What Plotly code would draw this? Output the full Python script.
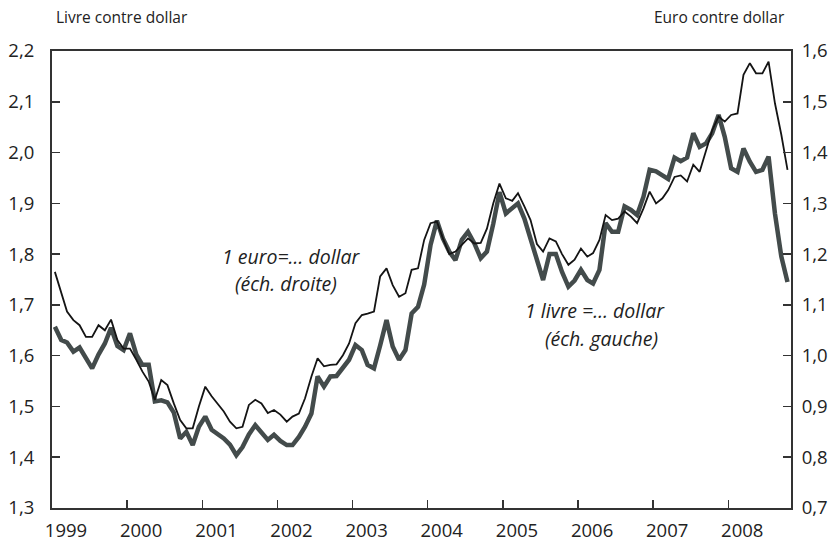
import plotly.graph_objects as go

# Monthly averages, Jan 1999 - Oct 2008
years = list(range(1999, 2009))
months = [f"{y}-{m:02d}-15" for y in years for m in range(1, 13)][:118]

livre_dollar = [
    1.657, 1.631, 1.626, 1.608, 1.616, 1.597, 1.575, 1.602, 1.624, 1.655, 1.619, 1.611,  # 1999
    1.644, 1.602, 1.582, 1.582, 1.510, 1.512, 1.508, 1.488, 1.437, 1.450, 1.424, 1.460,  # 2000
    1.480, 1.454, 1.447, 1.437, 1.425, 1.404, 1.420, 1.445, 1.463, 1.450, 1.434, 1.444,  # 2001
    1.432, 1.424, 1.424, 1.440, 1.460, 1.486, 1.559, 1.539, 1.559, 1.560, 1.575, 1.592,  # 2002
    1.621, 1.611, 1.582, 1.575, 1.620, 1.670, 1.618, 1.592, 1.611, 1.683, 1.696, 1.740,  # 2003
    1.818, 1.866, 1.831, 1.805, 1.788, 1.828, 1.844, 1.821, 1.792, 1.805, 1.860, 1.922,  # 2004
    1.880, 1.890, 1.900, 1.870, 1.830, 1.785, 1.749, 1.800, 1.800, 1.765, 1.736, 1.748,  # 2005
    1.769, 1.749, 1.742, 1.769, 1.861, 1.844, 1.844, 1.894, 1.887, 1.877, 1.913, 1.966,  # 2006
    1.963, 1.955, 1.948, 1.990, 1.983, 1.990, 2.038, 2.011, 2.018, 2.038, 2.074, 2.031,  # 2007
    1.969, 1.962, 2.008, 1.982, 1.962, 1.966, 1.992, 1.880, 1.795, 1.745,                # 2008
]

euro_dollar = [
    1.165, 1.123, 1.087, 1.070, 1.060, 1.037, 1.037, 1.060, 1.050, 1.071, 1.031, 1.014,  # 1999
    1.014, 0.992, 0.969, 0.949, 0.913, 0.952, 0.942, 0.906, 0.873, 0.857, 0.857, 0.900,  # 2000
    0.939, 0.920, 0.905, 0.890, 0.870, 0.857, 0.860, 0.903, 0.913, 0.906, 0.887, 0.893,  # 2001
    0.884, 0.870, 0.880, 0.886, 0.916, 0.959, 0.995, 0.979, 0.982, 0.983, 1.001, 1.024,  # 2002
    1.064, 1.080, 1.083, 1.087, 1.156, 1.172, 1.139, 1.116, 1.123, 1.169, 1.172, 1.228,  # 2003
    1.261, 1.264, 1.231, 1.200, 1.205, 1.218, 1.231, 1.221, 1.222, 1.250, 1.300, 1.339,  # 2004
    1.310, 1.305, 1.320, 1.294, 1.267, 1.220, 1.205, 1.231, 1.225, 1.200, 1.179, 1.189,  # 2005
    1.211, 1.195, 1.202, 1.228, 1.277, 1.267, 1.270, 1.284, 1.274, 1.261, 1.290, 1.323,  # 2006
    1.300, 1.310, 1.326, 1.352, 1.355, 1.343, 1.376, 1.362, 1.402, 1.444, 1.471, 1.461,  # 2007
    1.474, 1.477, 1.553, 1.576, 1.556, 1.556, 1.579, 1.497, 1.435, 1.366,                # 2008
]

year_ticks = [f"{y}-01-01" for y in years]
year_labels = [str(y) for y in years]
left_ticks = [1.3, 1.4, 1.5, 1.6, 1.7, 1.8, 1.9, 2.0, 2.1, 2.2]
right_ticks = [0.7, 0.8, 0.9, 1.0, 1.1, 1.2, 1.3, 1.4, 1.5, 1.6]

FONT = "'Open Sans', Lato, sans-serif"
AXC = "#333333"
TXT = "#222222"
TICKSIZE = 18.5
NOTESIZE = 19.5

fig = go.Figure()
fig.add_trace(go.Scatter(
    x=months, y=livre_dollar, mode="lines", name="1 livre = ... dollar",
    line=dict(color="#434b4b", width=4.5), yaxis="y", hoverinfo="skip"))
fig.add_trace(go.Scatter(
    x=months, y=euro_dollar, mode="lines", name="1 euro = ... dollar",
    line=dict(color="#141414", width=1.8), yaxis="y2", hoverinfo="skip"))

fig.update_layout(
    width=838, height=543,
    margin=dict(l=52, r=47, t=51, b=35, autoexpand=False),
    paper_bgcolor="white", plot_bgcolor="white",
    showlegend=False,
    separators=", ",
    font=dict(family=FONT, size=TICKSIZE, color=TXT),
    xaxis=dict(
        type="date", range=["1999-01-01", "2008-11-01"],
        tickvals=year_ticks, ticktext=year_labels,
        ticks="inside", ticklen=8, tickwidth=1.5, tickcolor=AXC,
        showline=True, linecolor=AXC, linewidth=2, mirror=True,
        showgrid=False, zeroline=False, ticklabelshift=14,
        ticklabelstandoff=5, automargin=False,
        tickfont=dict(size=TICKSIZE),
    ),
    yaxis=dict(
        range=[1.3, 2.2], tickvals=left_ticks, tickformat=".1f",
        ticks="inside", ticklen=8, tickwidth=1.5, tickcolor=AXC,
        showline=True, linecolor=AXC, linewidth=2,
        showgrid=False, zeroline=False, ticklabelstandoff=12,
        automargin=False, tickfont=dict(size=TICKSIZE),
    ),
    yaxis2=dict(
        range=[0.7, 1.6], tickvals=right_ticks, tickformat=".1f",
        overlaying="y", side="right",
        ticks="inside", ticklen=8, tickwidth=1.5, tickcolor=AXC,
        showline=True, linecolor=AXC, linewidth=2,
        showgrid=False, zeroline=False, ticklabelstandoff=5,
        automargin=False, tickfont=dict(size=TICKSIZE),
    ),
    annotations=[
        dict(text="Livre contre dollar", xref="paper", yref="paper",
             x=(54 - 52) / 739, y=1.0, yshift=34, xanchor="left", yanchor="middle",
             showarrow=False, font=dict(size=15.5)),
        dict(text="Euro contre dollar", xref="paper", yref="paper",
             x=(787 - 52) / 739, y=1.0, yshift=34, xanchor="right", yanchor="middle",
             showarrow=False, font=dict(size=15.5)),
        dict(text="<i>1 euro=… dollar</i>", xref="paper", yref="paper",
             x=(291 - 52) / 739, y=(508 - 256) / 457, xanchor="center", yanchor="middle",
             showarrow=False, font=dict(size=NOTESIZE)),
        dict(text="<i>(éch. droite)</i>", xref="paper", yref="paper",
             x=(286 - 52) / 739, y=(508 - 283) / 457, xanchor="center", yanchor="middle",
             showarrow=False, font=dict(size=NOTESIZE)),
        dict(text="<i>1 livre =… dollar</i>", xref="paper", yref="paper",
             x=(595 - 52) / 739, y=(508 - 310) / 457, xanchor="center", yanchor="middle",
             showarrow=False, font=dict(size=NOTESIZE)),
        dict(text="<i>(éch. gauche)</i>", xref="paper", yref="paper",
             x=(601 - 52) / 739, y=(508 - 338) / 457, xanchor="center", yanchor="middle",
             showarrow=False, font=dict(size=NOTESIZE)),
    ],
)

fig.write_html(
    "out.html",
    config={"displayModeBar": False, "staticPlot": True},
    post_script="document.body.style.margin='0';document.body.style.overflow='hidden';",
)
